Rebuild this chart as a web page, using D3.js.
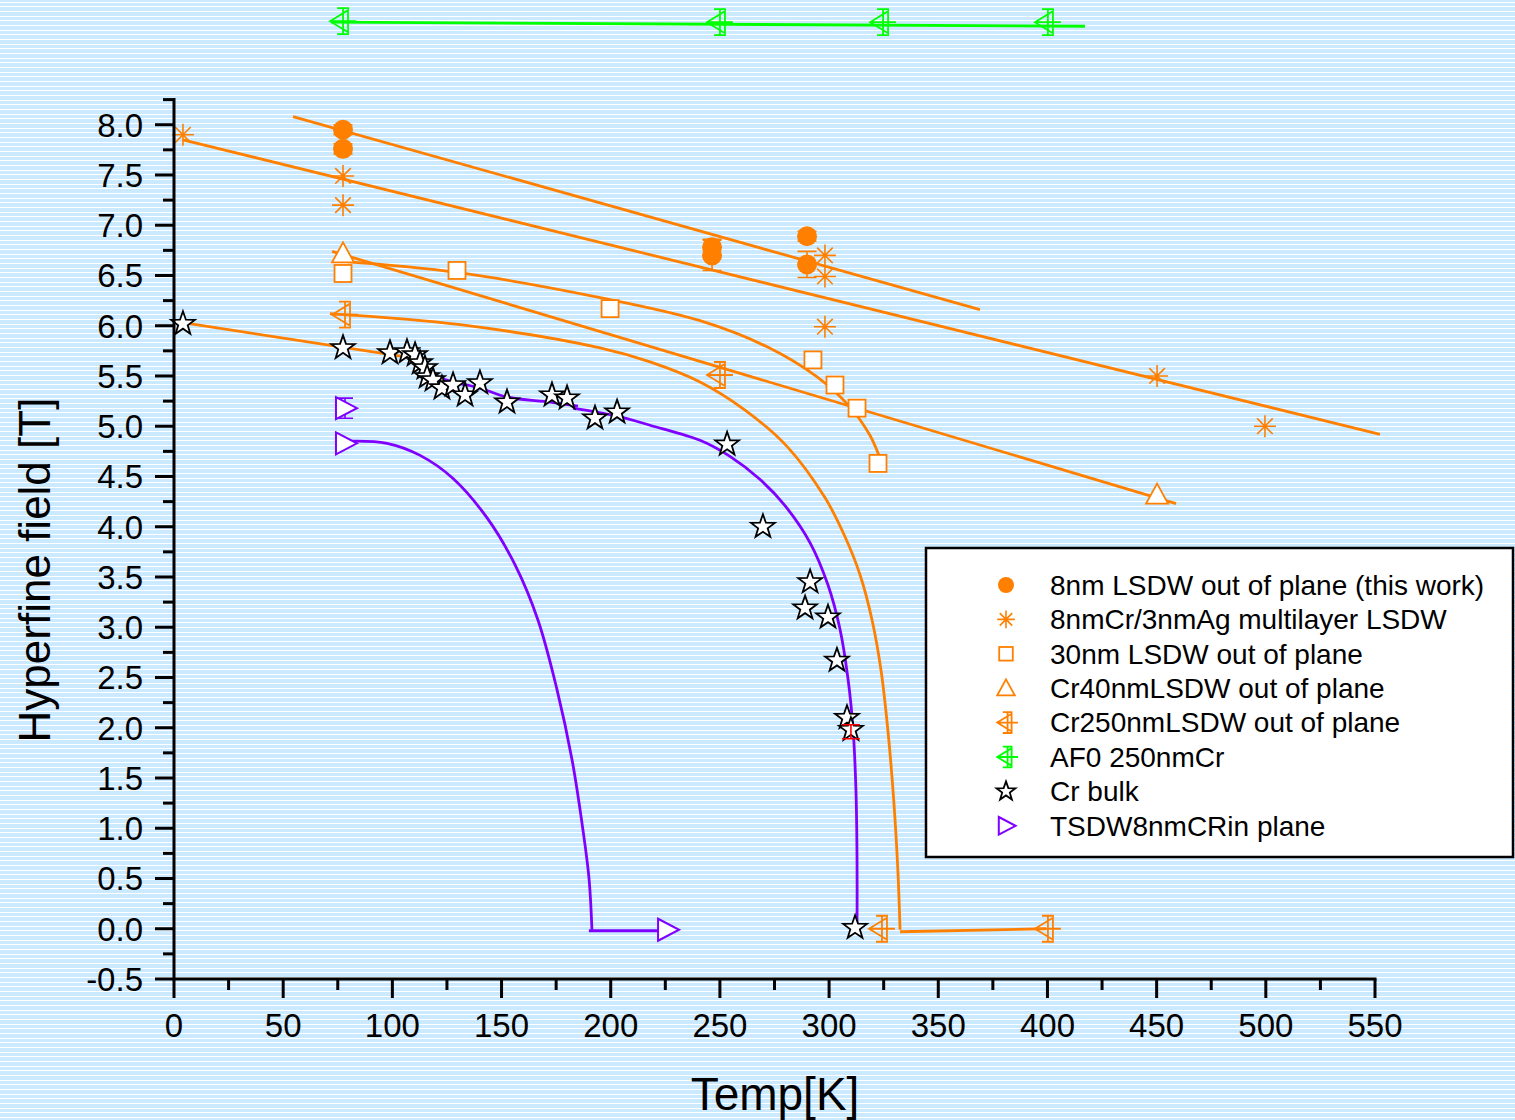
<!DOCTYPE html>
<html>
<head>
<meta charset="utf-8">
<script src="https://cdn.jsdelivr.net/npm/d3@7"></script>
<style>
  html, body { margin: 0; padding: 0; background: #cceaff; }
  svg { display: block; }
  text { font-family: "Liberation Sans", Arial, sans-serif; fill: #000; }
</style>
</head>
<body>
<svg id="chart" width="1515" height="1120"></svg>
<script>
// ---- measured hyperfine fields (T) versus temperature (K) ----

// 8nm LSDW out of plane (this work)
const lsdw8T   = [77.4, 77.4, 246.4, 246.4, 289.9, 289.9];
const lsdw8H   = [7.95, 7.76, 6.78, 6.70, 6.89, 6.61];
const lsdw8Err = [0.05, 0.05, 0.08, 0.15, 0.05, 0.13];
const lsdw8FitT = [54.5, 369.1];
const lsdw8FitH = [8.08, 6.16];

// 8nmCr/3nmAg multilayer LSDW
const multiT = [4.1, 77.4, 77.4, 298.1, 298.1, 298.1, 450.2, 499.6];
const multiH = [7.90, 7.49, 7.20, 6.70, 6.49, 5.99, 5.50, 5.00];
const multiFitT = [4.1, 552.3];
const multiFitH = [7.85, 4.92];

// 30nm LSDW out of plane
const lsdw30T = [77.4, 129.6, 199.7, 292.6, 302.7, 312.8, 322.4];
const lsdw30H = [6.52, 6.55, 6.17, 5.66, 5.41, 5.18, 4.63];
const lsdw30FitT = [77.4, 129.6, 195.1, 240.9, 271.6, 294.5, 309.6, 318.7, 321.9, 324.2];
const lsdw30FitH = [6.64, 6.53, 6.28, 6.05, 5.79, 5.49, 5.19, 4.91, 4.76, 4.63];

// Cr40nmLSDW out of plane
const cr40T = [77.4, 450.2];
const cr40H = [6.72, 4.32];
const cr40FitT = [72.4, 458.9];
const cr40FitH = [6.74, 4.23];

// Cr250nmLSDW out of plane
const cr250T = [77.4, 249.1, 323.3, 399.3];
const cr250H = [6.11, 5.51, 0.0, 0.0];
const cr250FitT = [71.4, 131.0, 195.1, 218.0, 240.9, 261.5, 280.7, 298.1, 307.3, 314.2, 319.7, 323.8, 326.9, 329.6, 331.5, 332.5];
const cr250FitH = [6.12, 6.01, 5.78, 5.64, 5.44, 5.16, 4.80, 4.29, 3.90, 3.52, 3.07, 2.57, 1.98, 1.28, 0.58, -0.01];
const cr250TailT = [332.5, 399.3];
const cr250TailH = [-0.03, 0.0];

// AF0 250nmCr
const af0T = [76.5, 249.1, 323.8, 399.3];
const af0H = [9.03, 9.02, 9.02, 9.02];
const af0FitT = [71.9, 417.2];
const af0FitH = [9.02, 8.98];

// Cr bulk
const bulkT = [4.1, 77.4, 98.9, 106.7, 110.4, 112.7, 114.9, 115.9, 118.6, 122.7, 127.8, 133.3,
               140.1, 152.5, 173.1, 180.0, 192.8, 202.9, 253.3, 269.7, 291.3, 289.0, 299.5,
               303.6, 308.2, 310.0, 311.9];
const bulkH = [6.02, 5.78, 5.73, 5.74, 5.71, 5.63, 5.58, 5.49, 5.46, 5.38, 5.41, 5.31,
               5.43, 5.24, 5.31, 5.28, 5.08, 5.14, 4.82, 4.00, 3.45, 3.19, 3.10,
               2.67, 2.10, 1.98, 0.01];
const bulkLowFitT = [4.1, 109.0];
const bulkLowFitH = [6.03, 5.68];
const bulkFitAT = [110.4, 118.6, 127.8, 140.1, 152.5, 172.2, 185.0];
const bulkFitAH = [5.66, 5.51, 5.44, 5.38, 5.29, 5.24, 5.20];
const bulkFitBT = [182.7, 202.9, 218.0, 240.9, 254.6, 268.4, 279.8, 291.3, 299.5, 305.0, 308.7, 311.0, 312.3, 312.8, 312.8];
const bulkFitBH = [5.18, 5.10, 5.01, 4.86, 4.70, 4.47, 4.21, 3.84, 3.42, 2.98, 2.48, 1.98, 1.38, 0.69, -0.04];
const bulkErrT = [310.0];
const bulkErrH = [1.96];
const bulkErrE = [0.07];

// TSDW8nmCRin plane
const tsdwT   = [78.3, 78.3, 225.8];
const tsdwH   = [5.18, 4.83, -0.01];
const tsdwErr = [0.10, 0, 0];
const tsdwFitT = [79.2, 97.5, 112.7, 127.8, 143.3, 156.2, 166.7, 175.4, 182.3, 187.3, 190.1, 191.4];
const tsdwFitH = [4.85, 4.83, 4.71, 4.48, 4.09, 3.62, 3.07, 2.38, 1.68, 0.98, 0.49, -0.01];
const tsdwTailT = [190.0, 227.0];
const tsdwTailH = [-0.02, -0.02];

// axis ticks
const xMajor = [0, 50, 100, 150, 200, 250, 300, 350, 400, 450, 500, 550];
const xMinor = [25, 75, 125, 175, 225, 275, 325, 375, 425, 475, 525];
const yMajor = [-0.5, 0, 0.5, 1, 1.5, 2, 2.5, 3, 3.5, 4, 4.5, 5, 5.5, 6, 6.5, 7, 7.5, 8];
const yMinor = [-0.25, 0.25, 0.75, 1.25, 1.75, 2.25, 2.75, 3.25, 3.75, 4.25, 4.75, 5.25,
                5.75, 6.25, 6.75, 7.25, 7.75, 8.25];

const legendLabels = [
  "8nm LSDW out of plane (this work)",
  "8nmCr/3nmAg multilayer LSDW",
  "30nm LSDW out of plane",
  "Cr40nmLSDW out of plane",
  "Cr250nmLSDW out of plane",
  "AF0 250nmCr",
  "Cr bulk",
  "TSDW8nmCRin plane"
];

// ---- drawing ----
const ORANGE = "#ff8000", GREEN = "#00ff00", PURPLE = "#8000ff", BLACK = "#000000";

const svg = d3.select("#chart");

// striped backdrop
svg.append("rect").attr("width", 1515).attr("height", 1120).attr("fill", "#cceaff");
svg.append("g").selectAll("rect")
  .data(d3.range(241))
  .join("rect")
  .attr("x", 0).attr("width", 1515)
  .attr("y", i => Math.round(1.5 + i * 14 / 3))
  .attr("height", 1)
  .attr("fill", "#ffffff")
  .attr("shape-rendering", "crispEdges");

const x = d3.scaleLinear().domain([0, 550]).range([174, 1375]);
const y = d3.scaleLinear().domain([-0.5, 8.25]).range([979, 99.6]);

const zip = (a, b) => a.map((v, i) => [v, b[i]]);
const straight = d3.line().x(d => x(d[0])).y(d => y(d[1]));
const smooth = d3.line().x(d => x(d[0])).y(d => y(d[1])).curve(d3.curveCatmullRom.alpha(0.5));

const lines = svg.append("g").attr("fill", "none").attr("stroke-width", 2.8)
  .attr("stroke-linejoin", "round");
function addLine(T, H, color, gen) {
  lines.append("path").attr("d", gen(zip(T, H))).attr("stroke", color);
}
addLine(lsdw8FitT, lsdw8FitH, ORANGE, straight);
addLine(multiFitT, multiFitH, ORANGE, straight);
addLine(lsdw30FitT, lsdw30FitH, ORANGE, smooth);
addLine(cr40FitT, cr40FitH, ORANGE, straight);
addLine(cr250FitT, cr250FitH, ORANGE, smooth);
addLine(cr250TailT, cr250TailH, ORANGE, straight);
addLine(af0FitT, af0FitH, GREEN, straight);
addLine(bulkLowFitT, bulkLowFitH, ORANGE, straight);
addLine(bulkFitAT, bulkFitAH, PURPLE, smooth);
addLine(bulkFitBT, bulkFitBH, PURPLE, smooth);
addLine(tsdwFitT, tsdwFitH, PURPLE, smooth);
addLine(tsdwTailT, tsdwTailH, PURPLE, straight);

// vertical error bars with caps
function errBars(g, T, H, E, color, capHalf) {
  T.forEach((t, i) => {
    if (!E[i]) return;
    const cx = x(t), y0 = y(H[i] - E[i]), y1 = y(H[i] + E[i]);
    g.append("path")
      .attr("d", `M${cx},${y0}V${y1}M${cx - capHalf},${y0}H${cx + capHalf}M${cx - capHalf},${y1}H${cx + capHalf}`)
      .attr("stroke", color).attr("stroke-width", 1.6).attr("fill", "none");
  });
}

function starPath(cx, cy, R, r) {
  let d = "";
  for (let k = 0; k < 10; k++) {
    const a = -Math.PI / 2 + k * Math.PI / 5;
    const rad = k % 2 === 0 ? R : r;
    d += (k === 0 ? "M" : "L") + (cx + rad * Math.cos(a)).toFixed(2) + "," + (cy + rad * Math.sin(a)).toFixed(2);
  }
  return d + "Z";
}

function marker(g, type, cx, cy, color, s = 1) {
  switch (type) {
    case "circle":
      g.append("circle").attr("cx", cx).attr("cy", cy).attr("r", 10 * s).attr("fill", color);
      break;
    case "asterisk": {
      const a = 11 * s, b = 7.8 * s;
      g.append("path")
        .attr("d", `M${cx - a},${cy}H${cx + a}M${cx},${cy - a}V${cy + a}M${cx - b},${cy - b}L${cx + b},${cy + b}M${cx - b},${cy + b}L${cx + b},${cy - b}`)
        .attr("stroke", color).attr("stroke-width", 1.6).attr("fill", "none");
      break;
    }
    case "square": {
      const h = 8.5 * s;
      g.append("rect").attr("x", cx - h).attr("y", cy - h).attr("width", 2 * h).attr("height", 2 * h)
        .attr("fill", "#fff").attr("stroke", color).attr("stroke-width", 1.8);
      break;
    }
    case "triUp":
      g.append("path")
        .attr("d", `M${cx},${cy - 11 * s}L${cx + 11 * s},${cy + 9 * s}L${cx - 11 * s},${cy + 9 * s}Z`)
        .attr("fill", "#fff").attr("stroke", color).attr("stroke-width", 1.8);
      break;
    case "triLeftX": {
      const p = (dx, dy) => `${cx + dx * s},${cy + dy * s}`;
      g.append("path")
        .attr("d", `M${p(-11, 0)}L${p(7, -11)}L${p(7, 11)}Z` +
                   `M${p(2, -13)}L${p(2, 13)}M${p(-4, -13)}L${p(8, -13)}M${p(-4, 13)}L${p(8, 13)}` +
                   `M${p(-11, 0)}L${p(15, 0)}`)
        .attr("fill", "none").attr("stroke", color).attr("stroke-width", 1.8);
      break;
    }
    case "star":
      g.append("path").attr("d", starPath(cx, cy, 12.5 * s, 5 * s))
        .attr("fill", "#fff").attr("stroke", color).attr("stroke-width", 1.8)
        .attr("stroke-linejoin", "miter");
      break;
    case "triRight":
      g.append("path")
        .attr("d", `M${cx - 9 * s},${cy - 11 * s}L${cx + 12 * s},${cy}L${cx - 9 * s},${cy + 11 * s}Z`)
        .attr("fill", "#fff").attr("stroke", color).attr("stroke-width", 2);
      break;
  }
}

const pts = svg.append("g");
function addPoints(T, H, type, color) {
  T.forEach((t, i) => marker(pts, type, x(t), y(H[i]), color));
}

errBars(pts, lsdw8T, lsdw8H, lsdw8Err, ORANGE, 9.5);
errBars(pts, tsdwT, tsdwH, tsdwErr, PURPLE, 8);

addPoints(multiT, multiH, "asterisk", ORANGE);
addPoints(lsdw30T, lsdw30H, "square", ORANGE);
addPoints(cr40T, cr40H, "triUp", ORANGE);
addPoints(cr250T, cr250H, "triLeftX", ORANGE);
addPoints(af0T, af0H, "triLeftX", GREEN);
addPoints(lsdw8T, lsdw8H, "circle", ORANGE);
addPoints(bulkT, bulkH, "star", BLACK);
errBars(pts, bulkErrT, bulkErrH, bulkErrE, "#ff0000", 9);
addPoints(tsdwT, tsdwH, "triRight", PURPLE);

// ---- axes ----
const axes = svg.append("g").attr("stroke", BLACK).attr("stroke-width", 3).attr("fill", "none");
axes.append("path").attr("d", `M${x(0)},${y(8.25)}V${y(-0.5)}H${x(550)}`)
  .attr("stroke-linecap", "square");

xMajor.forEach(v => axes.append("path").attr("d", `M${x(v)},${y(-0.5)}v19`));
xMinor.forEach(v => axes.append("path").attr("d", `M${x(v)},${y(-0.5)}v11`));
yMajor.forEach(v => axes.append("path").attr("d", `M${x(0)},${y(v)}h-19`));
yMinor.forEach(v => axes.append("path").attr("d", `M${x(0)},${y(v)}h-11`));

svg.append("g").selectAll("text").data(xMajor).join("text")
  .attr("x", d => x(d)).attr("y", 1037)
  .attr("text-anchor", "middle").attr("font-size", 33)
  .text(d => d);
svg.append("g").selectAll("text").data(yMajor).join("text")
  .attr("x", 143).attr("y", d => y(d)).attr("dy", "0.36em")
  .attr("text-anchor", "end").attr("font-size", 33)
  .text(d => d.toFixed(1));

svg.append("text").attr("x", 775).attr("y", 1110)
  .attr("text-anchor", "middle").attr("font-size", 46).text("Temp[K]");
svg.append("text").attr("transform", "translate(50,570) rotate(-90)")
  .attr("text-anchor", "middle").attr("font-size", 44).text("Hyperfine field [T]");

// ---- legend ----
const leg = svg.append("g");
leg.append("rect").attr("x", 926).attr("y", 548).attr("width", 587).attr("height", 309)
  .attr("fill", "#fff").attr("stroke", BLACK).attr("stroke-width", 2.5);
const legTypes = ["circle", "asterisk", "square", "triUp", "triLeftX", "triLeftX", "star", "triRight"];
const legColors = [ORANGE, ORANGE, ORANGE, ORANGE, ORANGE, GREEN, BLACK, PURPLE];
legendLabels.forEach((lab, i) => {
  const cy = 585 + i * 34.4;
  marker(leg, legTypes[i], 1006, cy, legColors[i], 0.8);
  leg.append("text").attr("x", 1050).attr("y", cy).attr("dy", "0.35em")
    .attr("font-size", 28).text(lab);
});
</script>
</body>
</html>
